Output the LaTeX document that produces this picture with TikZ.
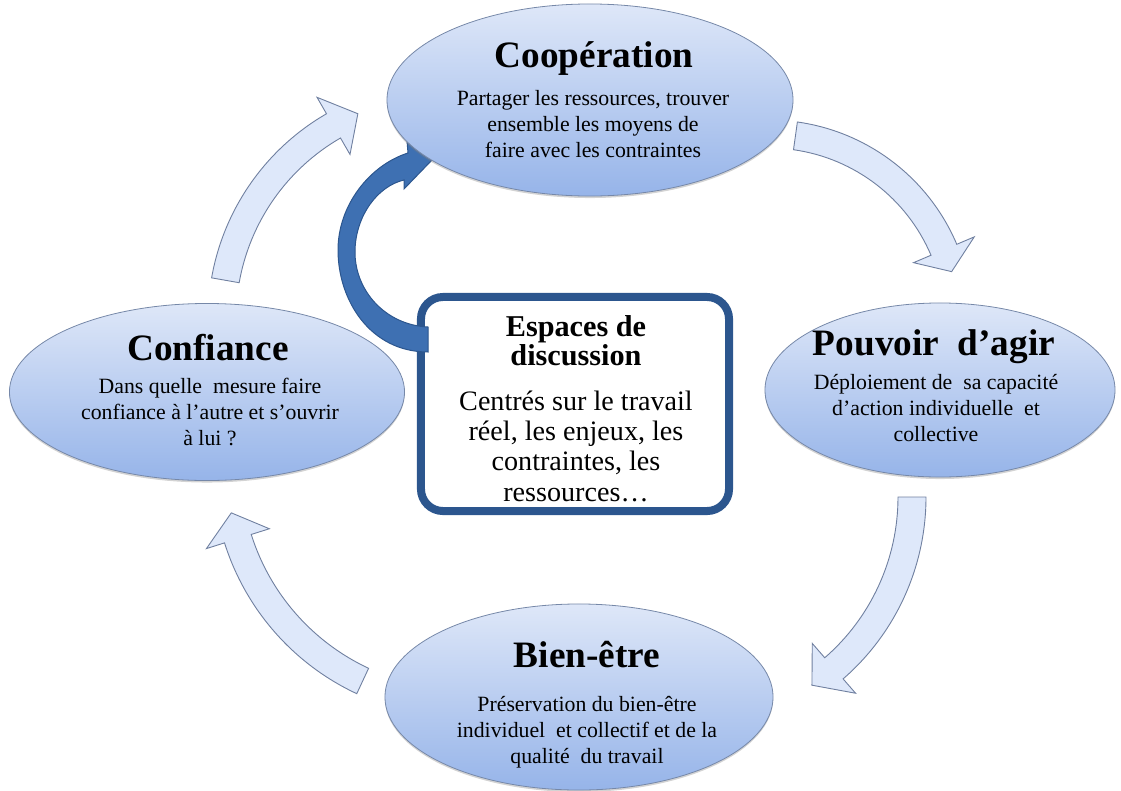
\documentclass[tikz,border=0pt]{standalone}
\usepackage{fontspec}
\setmainfont{Liberation Serif}
\usetikzlibrary{shapes.geometric,shadows}
\newdimen\pxl \pxl=0.7113pt
\definecolor{bubbletop}{RGB}{222,231,248}
\definecolor{bubblebot}{RGB}{150,180,233}
\definecolor{bubbleline}{RGB}{118,136,168}
\definecolor{arrowfill}{RGB}{222,232,250}
\definecolor{arrowline}{RGB}{112,128,160}
\definecolor{discblue}{RGB}{44,86,142}
\definecolor{loopblue}{RGB}{62,112,178}
\tikzset{
  bubble/.style={ellipse, draw=bubbleline, line width=0.8\pxl, top color=bubbletop,
    bottom color=bubblebot, inner sep=0pt,
    drop shadow={shadow xshift=0pt, shadow yshift=-2\pxl, opacity=0.35}},
  bubbletitle/.style={font=\fontsize{26.5}{30}\selectfont\bfseries, inner sep=0pt, anchor=base},
  bubblebody/.style={font=\fontsize{15.5}{18.4}\selectfont, align=center, inner sep=0pt},
  disc/.style={rectangle, draw=discblue, line width=8\pxl, rounded corners=22\pxl,
    fill=white, minimum width=308\pxl, minimum height=214\pxl, inner sep=0pt},
  disctitle/.style={font=\fontsize{21.5}{19.2}\selectfont\bfseries, align=center, inner sep=0pt},
  discbody/.style={font=\fontsize{20}{21.6}\selectfont, align=center, inner sep=0pt},
  cycle arrow/.style={fill=arrowfill, draw=arrowline, line width=0.9\pxl, line join=miter},
  loop arrow/.style={fill=loopblue, draw=discblue, line width=1\pxl, line join=miter}
}
% curved block arrow: centre, radius, start angle, head angle, tip angle, half shaft, half head
\newcommand\cyclearrow[7]{%
  \pgfmathsetmacro\arrOut{#2+#6}\pgfmathsetmacro\arrIn{#2-#6}%
  \pgfmathsetmacro\arrHo{#2+#7}\pgfmathsetmacro\arrHi{#2-#7}%
  \filldraw[cycle arrow, shift={(#1)}] (#3:\arrOut) arc[start angle=#3, end angle=#4, radius=\arrOut]
    -- (#4:\arrHo) -- (#5:#2) -- (#4:\arrHi) -- (#4:\arrIn)
    arc[start angle=#4, end angle=#3, radius=\arrIn] -- cycle;}
\begin{document}
\begin{tikzpicture}[x=0.025cm, y=-0.025cm]
  \useasboundingbox (0,0) rectangle (1121,791);
  % central box
  \node[disc] (disc) at (575,404) {};
  % dark arrow from the box up to Cooperation
  \filldraw[loop arrow] (428,352) .. controls (370,352) and (338,300) .. (338,250)
    .. controls (338,205) and (370,165) .. (408,153) -- (407,141) -- (432,160)
    -- (404,189) -- (404,180) .. controls (378,186) and (356,215) .. (355,250)
    .. controls (354,290) and (385,325) .. (428,327) -- cycle;
  % the four stages
  \node[bubble, minimum width=406\pxl, minimum height=192\pxl] (coop) at (590,100) {};
  \node[bubble, minimum width=395\pxl, minimum height=177\pxl] (conf) at (207,392) {};
  \node[bubble, minimum width=350\pxl, minimum height=174\pxl] (pouv) at (940,390) {};
  \node[bubble, minimum width=388\pxl, minimum height=186\pxl] (bien) at (579,697) {};
  % cycle arrows
  \cyclearrow{445,319}{223}{-170}{-120}{-113}{14}{33}
  \cyclearrow{769,324}{190}{-82}{-23}{-16}{14}{33}
  \cyclearrow{685,497}{227}{0}{49}{56}{14}{33}
  \cyclearrow{462,468}{235}{-245}{-197.5}{-191}{14}{33}
  % texts
  \node[bubbletitle] (cooptitle) at (594,67) {Coopération};
  \node[bubblebody] (coopbody) at (593,124) {Partager les ressources, trouver\\ensemble les moyens de\\faire avec les contraintes};
  \node[bubbletitle] (conftitle) at (208,360) {Confiance};
  \node[bubblebody] (confbody) at (210,412) {Dans quelle\ \ mesure faire\\confiance à l’autre et s’ouvrir\\à lui ?};
  \node[bubbletitle] (pouvtitle) at (934,355) {Pouvoir\ \ d’agir};
  \node[bubblebody] (pouvbody) at (936,408) {Déploiement de\ \ sa capacité\\d’action individuelle\ \ et\\collective};
  \node[bubbletitle] (bientitle) at (587,667) {Bien-être};
  \node[bubblebody] (bienbody) at (587,732) {Préservation du bien-être\\individuel\ \ et collectif et de la\\qualité\ \ du travail};
  \node[disctitle] (disctitle) at (576,341) {Espaces de\\discussion};
  \node[discbody] (discbody) at (576,446) {Centrés sur le travail\\réel, les enjeux, les\\contraintes, les\\ressources…};
\end{tikzpicture}
\end{document}
